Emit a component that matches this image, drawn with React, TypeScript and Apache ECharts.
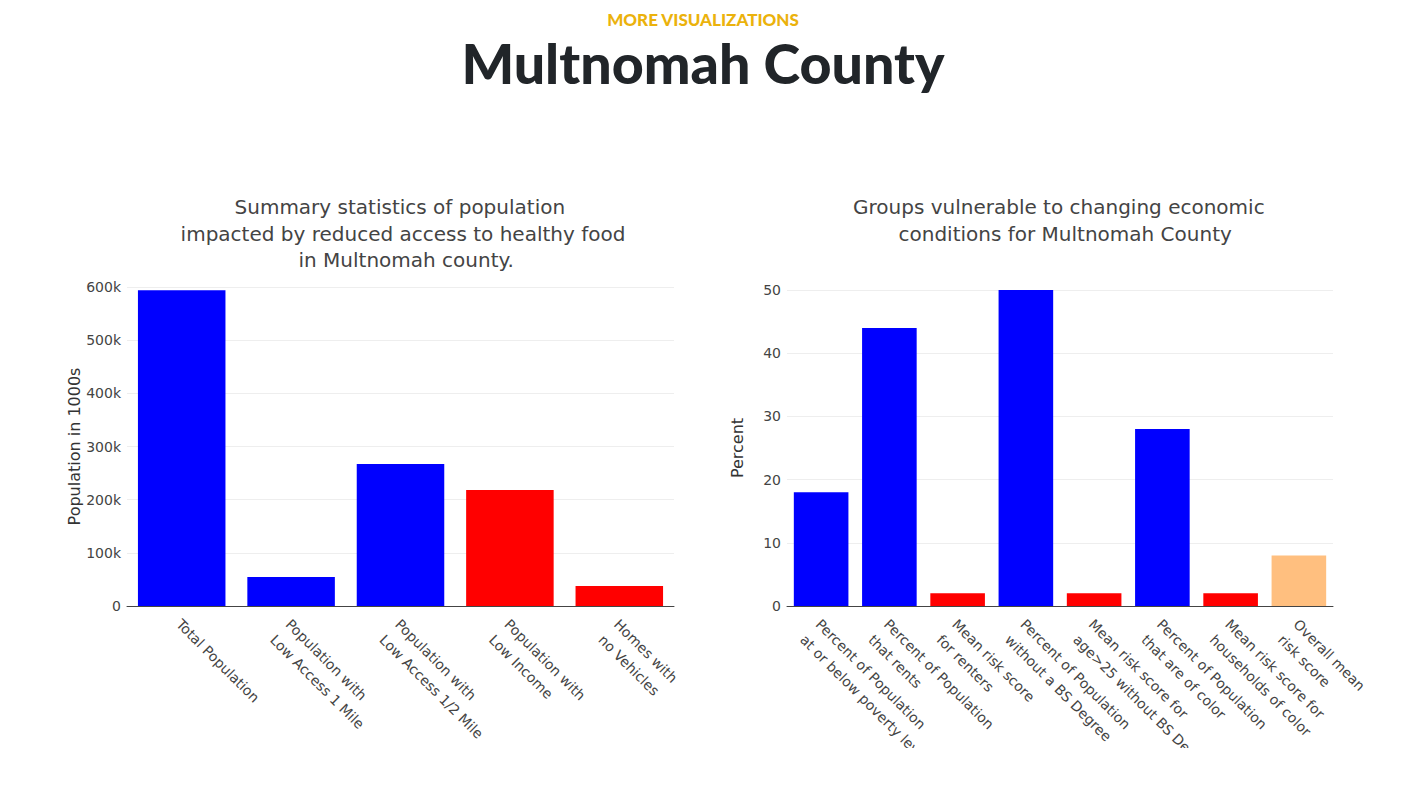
import React, { useEffect, useRef } from "react";
import * as echarts from "echarts";

const leftCategories = [
  "Total Population",
  "Population with\nLow Access 1 Mile",
  "Population with\nLow Access 1/2 Mile",
  "Population with\nLow Income",
  "Homes with\nno Vehicles",
];
const leftValues = [594000, 54500, 267000, 218000, 37500];
const leftColors = ["#0000ff", "#0000ff", "#0000ff", "#ff0000", "#ff0000"];

const rightCategories = [
  "Percent of Population\nat or below poverty level",
  "Percent of Population\nthat rents",
  "Mean risk score\nfor renters",
  "Percent of Population\nwithout a BS Degree",
  "Mean risk score for\nage>25 without BS Degree",
  "Percent of Population\nthat are of color",
  "Mean risk score for\nhouseholds of color",
  "Overall mean\nrisk score",
];
const rightValues = [18, 44, 2, 50, 2, 28, 2, 8];
const rightColors = [
  "#0000ff",
  "#0000ff",
  "#ff0000",
  "#0000ff",
  "#ff0000",
  "#0000ff",
  "#ff0000",
  "#ffbf7f",
];

const leftTicks = { min: 0, max: 600000, interval: 100000 };
const rightTicks = { min: 0, max: 50, interval: 10 };

const pageKicker = "MORE VISUALIZATIONS";
const pageTitle = "Multnomah County";
const leftTitle =
  "Summary statistics of population \nimpacted by reduced access to healthy food\n in Multnomah county.";
const rightTitle =
  "Groups vulnerable to changing economic \n conditions for Multnomah County";
const leftYName = "Population in 1000s";
const rightYName = "Percent";

const FONT = "'DejaVu Sans', Verdana, sans-serif";
const TXT = "#444";

export default function App() {
  const ref = useRef<HTMLDivElement>(null);
  useEffect(() => {
    if (!ref.current) return;
    const chart = echarts.init(ref.current, undefined, { renderer: "svg" });
    const xLabel = {
      interval: 0,
      rotate: -45,
      align: "left",
      verticalAlign: "top",
      margin: 3,
      padding: [0, 0, 0, 7],
      fontSize: 14,
      lineHeight: 22,
      color: TXT,
      fontFamily: FONT,
    };
    const yLabel = {
      fontSize: 14,
      color: TXT,
      fontFamily: FONT,
      margin: 6,
    };
    const titleStyle = {
      fontFamily: FONT,
      fontWeight: "normal",
      fontSize: 20,
      lineHeight: 26.5,
      color: TXT,
    };
    chart.setOption({
      animation: false,
      backgroundColor: "#ffffff",
      title: [
        {
          text: pageKicker,
          left: 698,
          top: 6,
          textAlign: "center",
          textStyle: {
            fontFamily: "Lato, 'Open Sans', sans-serif",
            fontWeight: 900,
            fontSize: 17,
            color: "#ebb20c",
          },
        },
        {
          text: pageTitle,
          left: 698,
          top: 29,
          textAlign: "center",
          textStyle: {
            fontFamily: "Lato, 'Open Sans', sans-serif",
            fontWeight: 900,
            fontSize: 55.5,
            color: "#212529",
          },
        },
        {
          text: leftTitle,
          left: 398,
          top: 189,
          textAlign: "center",
          textStyle: titleStyle,
        },
        {
          text: rightTitle,
          left: 1057,
          top: 189,
          textAlign: "center",
          textStyle: titleStyle,
        },
      ],
      grid: [
        { left: 127, right: 730, top: 287, bottom: 142, outerBoundsMode: "none" },
        { left: 787, right: 71, top: 290, bottom: 142, outerBoundsMode: "none" },
      ],
      xAxis: [
        {
          type: "category",
          gridIndex: 0,
          data: leftCategories,
          axisLine: { lineStyle: { color: "#444", width: 1 } },
          axisTick: { show: false },
          axisLabel: xLabel,
        },
        {
          type: "category",
          gridIndex: 1,
          data: rightCategories,
          axisLine: { lineStyle: { color: "#444", width: 1 } },
          axisTick: { show: false },
          axisLabel: xLabel,
        },
      ],
      yAxis: [
        {
          type: "value",
          gridIndex: 0,
          ...leftTicks,
          name: leftYName,
          nameLocation: "middle",
          nameGap: 45,
          nameRotate: 90,
          nameTextStyle: { fontSize: 16, color: "#333", fontFamily: FONT },
          axisLine: { show: false },
          axisTick: { show: false },
          splitLine: { lineStyle: { color: "#eeeeee", width: 1 } },
          axisLabel: {
            ...yLabel,
            formatter: (v: number) => (v === 0 ? "0" : v / 1000 + "k"),
          },
        },
        {
          type: "value",
          gridIndex: 1,
          ...rightTicks,
          name: rightYName,
          nameLocation: "middle",
          nameGap: 42,
          nameRotate: 90,
          nameTextStyle: { fontSize: 16, color: "#333", fontFamily: FONT },
          axisLine: { show: false },
          axisTick: { show: false },
          splitLine: { lineStyle: { color: "#eeeeee", width: 1 } },
          axisLabel: yLabel,
        },
      ],
      series: [
        {
          type: "bar",
          xAxisIndex: 0,
          yAxisIndex: 0,
          barCategoryGap: "20%",
          data: leftValues.map((v, i) => ({
            value: v,
            itemStyle: { color: leftColors[i] },
          })),
        },
        {
          type: "bar",
          xAxisIndex: 1,
          yAxisIndex: 1,
          barCategoryGap: "20%",
          data: rightValues.map((v, i) => ({
            value: v,
            itemStyle: { color: rightColors[i] },
          })),
        },
      ],
    });
    return () => chart.dispose();
  }, []);
  return (
    <div
      ref={ref}
      style={{
        position: "absolute",
        left: 0,
        top: 0,
        width: 1404,
        height: 748,
        overflow: "hidden",
        background: "#fff",
      }}
    />
  );
}
